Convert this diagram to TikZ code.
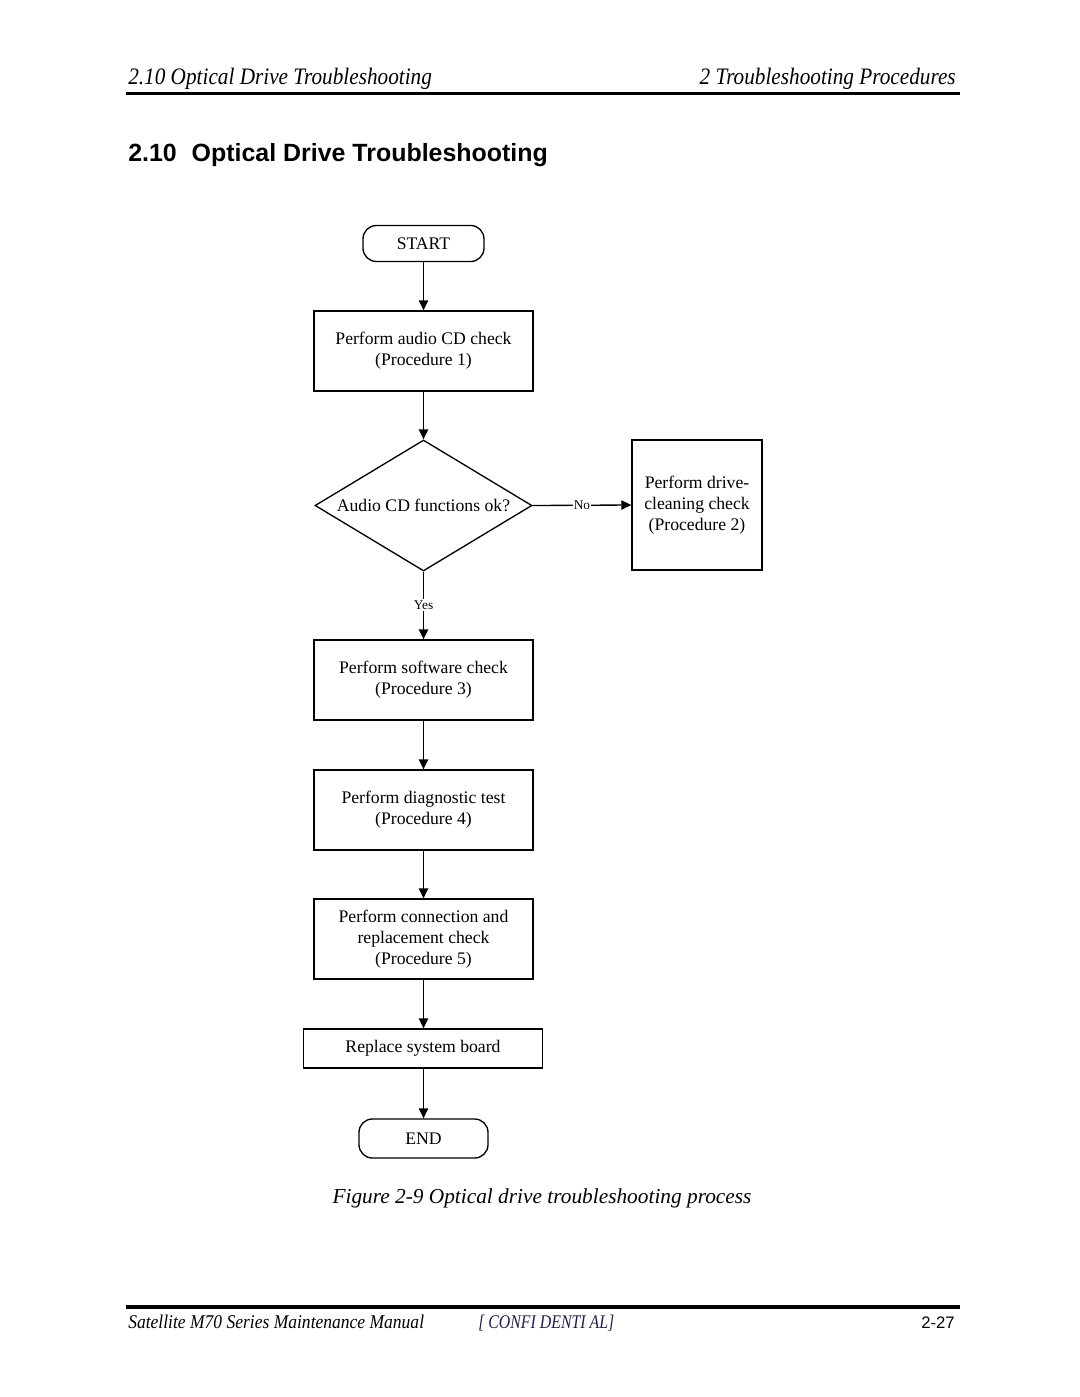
\documentclass[tikz,border=0pt]{standalone}
\usepackage{fontspec}
\setmainfont{Liberation Serif}
\newfontfamily\arialfont{Liberation Sans}
\newfontfamily\condit[FakeStretch=0.9]{Liberation Serif}
\newfontfamily\confit[FakeStretch=0.82]{Liberation Serif}
\usetikzlibrary{shapes.geometric,arrows.meta}
\definecolor{conf}{RGB}{30,30,70}
\tikzset{
  procbox/.style={draw, line width=1pt, align=center, inner sep=0pt,
    font=\fontsize{13.25}{15.75}\selectfont},
  term/.style={draw, line width=1pt, rounded corners=10pt, inner sep=0pt,
    minimum width=121*0.75pt, minimum height=36*0.75pt, font=\fontsize{13.25}{15}\selectfont},
  flow/.style={line width=1pt, -{Triangle[length=7.5pt,width=7pt]}},
  lbl/.style={fill=white, inner sep=1pt, font=\fontsize{10}{11}\selectfont}
}
\begin{document}
\begin{tikzpicture}[x=0.75pt,y=-0.75pt]
\useasboundingbox (0,0) rectangle (1080,1397);
% header
\node[anchor=base west, inner sep=0pt, font=\condit\fontsize{17.7}{20}\selectfont\itshape] (hl) at (128,84) {2.10 Optical Drive Troubleshooting};
\node[anchor=base east, inner sep=0pt, font=\condit\fontsize{17.7}{20}\selectfont\itshape] (hr) at (956,84) {2 Troubleshooting Procedures};
\draw[line width=2.4pt] (126,93.5) -- (960,93.5);
% title
\node[anchor=base west, inner sep=0pt, font=\arialfont\fontsize{18.7}{22}\selectfont\bfseries] (title) at (128,161) {2.10\hspace{0.6em}Optical Drive Troubleshooting};
% flowchart
\node[term] (start) at (423.5,243.5) {START};
\node[procbox, minimum width=219*0.75pt, minimum height=80*0.75pt] (p1) at (423.5,351) {Perform audio CD check\\(Procedure 1)};
\node[draw, line width=1pt, diamond, inner sep=0pt, minimum width=217*0.75pt, minimum height=131*0.75pt] (dec) at (423.5,505.5) {};
\node[font=\fontsize{13.25}{15}\selectfont] (dect) at (dec.center) {Audio CD functions ok?};
\node[procbox, minimum width=130*0.75pt, minimum height=130*0.75pt] (p2) at (697,505) {Perform drive-\\cleaning check\\(Procedure 2)};
\node[procbox, minimum width=219*0.75pt, minimum height=80*0.75pt] (p3) at (423.5,680) {Perform software check\\(Procedure 3)};
\node[procbox, minimum width=219*0.75pt, minimum height=80*0.75pt] (p4) at (423.5,810) {Perform diagnostic test\\(Procedure 4)};
\node[procbox, minimum width=219*0.75pt, minimum height=80*0.75pt] (p5) at (423.5,939) {Perform connection and\\replacement check\\(Procedure 5)};
\node[procbox, minimum width=239*0.75pt, minimum height=39*0.75pt] (p6) at (423,1048.5) {Replace system board};
\node[term, minimum width=129*0.75pt, minimum height=39*0.75pt] (end) at (423.5,1138.5) {END};
\draw[flow] (start.south) -- (start.south |- p1.north);
\draw[flow] (p1.south) -- (p1.south |- dec.north);
\draw[flow] (dec.east) -- node[lbl] {No} (p2.west);
\draw[flow] (dec.south) -- node[lbl, pos=0.49] {Yes} (dec.south |- p3.north);
\draw[flow] (p3.south) -- (p3.south |- p4.north);
\draw[flow] (p4.south) -- (p4.south |- p5.north);
\draw[flow] (p5.south) -- (p5.south |- p6.north);
\draw[flow] (p5.south |- p6.south) -- (p5.south |- end.north);
% caption
\node[anchor=base, inner sep=0pt, font=\fontsize{16}{18}\selectfont\itshape] (cap) at (542,1203) {Figure 2-9 Optical drive troubleshooting process};
% footer
\draw[line width=3pt] (126,1306.5) -- (960,1306.5);
\node[anchor=base west, inner sep=0pt, font=\condit\fontsize{14.6}{16}\selectfont\itshape] (fl) at (128,1328) {Satellite M70 Series Maintenance Manual};
\node[anchor=base west, inner sep=0pt, text=conf, font=\confit\fontsize{14.5}{16}\selectfont\itshape] (fc) at (478,1328) {[ CONFI DENTI AL]};
\node[anchor=base east, inner sep=0pt, font=\arialfont\fontsize{12.5}{14}\selectfont] (fr) at (955,1328) {2-27};
\end{tikzpicture}
\end{document}
